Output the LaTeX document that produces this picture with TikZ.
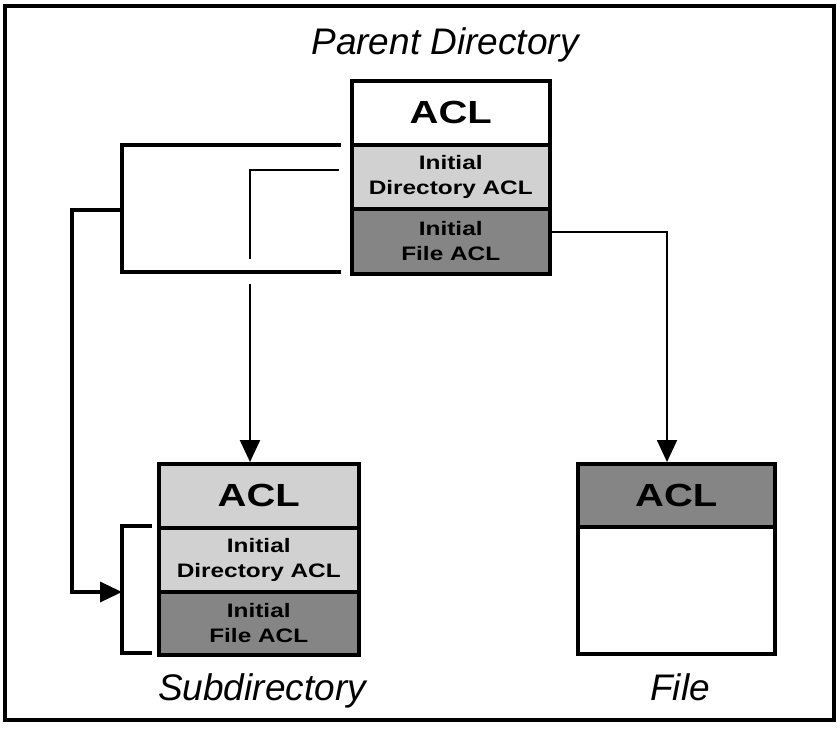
\documentclass[tikz,border=0pt]{standalone}
\usepackage{fontspec}
\setmainfont{Liberation Sans}
\newfontfamily\widefont[FakeStretch=1.25]{Liberation Sans}
\usetikzlibrary{arrows.meta}
\definecolor{lightfill}{gray}{0.82}
\definecolor{darkfill}{gray}{0.52}
\tikzset{
  sec/.style={draw, line width=3.5pt, inner sep=0pt, anchor=north west,
    align=center, font=\widefont\bfseries\fontsize{19.5}{25}\selectfont},
  bigacl/.style={font=\widefont\bfseries\fontsize{32}{34}\selectfont},
  label/.style={font=\itshape\fontsize{37}{40}\selectfont, inner sep=0pt, anchor=base},
  brk/.style={line width=3.5pt, line cap=rect},
  thin/.style={line width=1.8pt},
  tip/.style={-{Triangle[length=22pt,width=20pt]}}
}
\begin{document}
\begin{tikzpicture}[x=1pt,y=-1pt]
\useasboundingbox (0,0) rectangle (840,729);
\draw[line width=3.5pt] (5,6) rectangle (834,720);

% parent directory
\node[label] (ptitle) at (445,54) {Parent Directory};
\node[sec, bigacl, fill=white, minimum width=198pt, minimum height=64pt] (pacl) at (350,79) {ACL};
\node[sec, fill=lightfill, minimum width=198pt, minimum height=64pt] (pdir) at (350,143) {Initial\\Directory ACL};
\node[sec, fill=darkfill, minimum width=198pt, minimum height=65pt] (pfile) at (350,207) {Initial\\File ACL};

% subdirectory
\node[sec, bigacl, fill=lightfill, minimum width=200pt, minimum height=64pt] (sacl) at (157,462) {ACL};
\node[sec, fill=lightfill, minimum width=200pt, minimum height=64pt] (sdir) at (157,526) {Initial\\Directory ACL};
\node[sec, fill=darkfill, minimum width=200pt, minimum height=63pt] (sfile) at (157,590) {Initial\\File ACL};
\node[label] (stitle) at (262,700) {Subdirectory};

% file
\node[sec, bigacl, fill=darkfill, minimum width=197pt, minimum height=63pt] (facl) at (576,462) {ACL};
\node[sec, fill=white, minimum width=197pt, minimum height=127pt] (fbody) at (576,525) {};
\node[label] (ftitle) at (680,700) {File};

% coordinates for connector ends
\coordinate (ob1) at (339,145);
\coordinate (ob2) at (339,272);
\coordinate (obm) at (122,210);
\coordinate (ol) at (72,210);
\coordinate (ib1) at (339,170);
\coordinate (ibc) at (250,170);
\coordinate (gapa) at (250,259);
\coordinate (gapb) at (250,284);
\coordinate (sb1) at (150,526);
\coordinate (sb2) at (150,653);
\coordinate (sbm) at (122,592);

% outer bracket (both ACLs) to subdirectory initial ACLs
\draw[brk] (ob1) -| (ob2 -| obm) -- (ob2);
\draw[brk, tip] (obm) -- (ol) |- (sbm);
\draw[brk] (sb1) -| (sbm |- sb2) -- (sb2);

% inner: directory ACL to subdirectory ACL
\draw[line width=2.2pt] (ib1) -- (ibc) -- (gapa);
\draw[line width=2.2pt, tip] (gapb) -- (gapb |- sacl.north);

% file ACL to file
\draw[thin, tip] (pfile.east |- 0,232) -| (facl.north -| 667,0);
\end{tikzpicture}
\end{document}
